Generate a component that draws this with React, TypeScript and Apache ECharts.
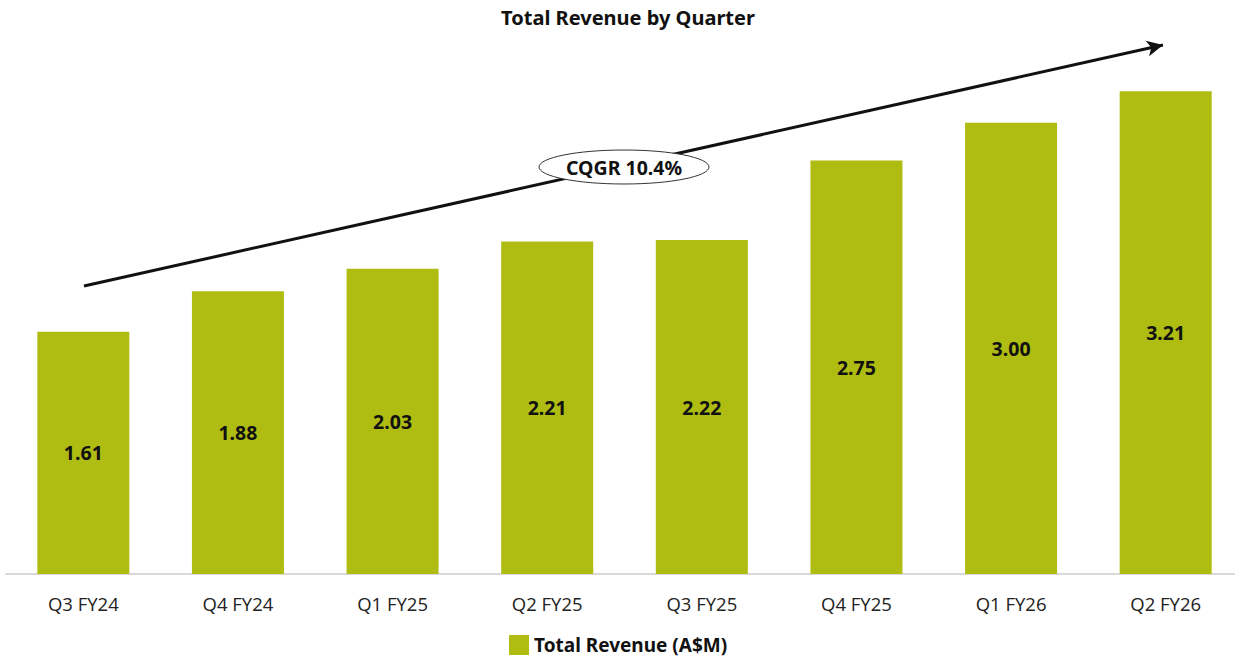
import React, { useEffect, useRef } from "react";
import * as echarts from "echarts";

const categories = ["Q3 FY24", "Q4 FY24", "Q1 FY25", "Q2 FY25", "Q3 FY25", "Q4 FY25", "Q1 FY26", "Q2 FY26"];
const revenue = [1.61, 1.88, 2.03, 2.21, 2.22, 2.75, 3.0, 3.21];
const seriesName = "Total Revenue (A$M)";
const titleText = "Total Revenue by Quarter";
const cqgrText = "CQGR 10.4%";

export default function App() {
  const ref = useRef<HTMLDivElement>(null);
  useEffect(() => {
    document.body.style.margin = "0";
    const chart = echarts.init(ref.current!, null, { renderer: "svg" });
    const font = "'Noto Sans', 'Open Sans', sans-serif";
    chart.setOption({
      animation: false,
      title: {
        text: titleText,
        left: 623,
        textAlign: "center",
        top: 2,
        textStyle: { fontFamily: font, fontWeight: "bold", fontSize: 20, color: "#111" },
      },
      legend: {
        top: 635,
        left: 509,
        padding: 0,
        itemWidth: 20,
        itemHeight: 20,
        itemGap: 8,
        data: [seriesName],
        icon: "rect",
        textStyle: { fontFamily: font, fontWeight: "bold", fontSize: 19, color: "#111" },
      },
      grid: { left: 6, width: 1237, top: 47.6, height: 526.4, containLabel: false },
      xAxis: {
        type: "category",
        data: categories,
        axisLine: { lineStyle: { color: "#d9d9d9", width: 2 } },
        axisTick: { show: false },
        axisLabel: { fontFamily: "'Open Sans', sans-serif", fontSize: 18.5, color: "#222", margin: 20 },
      },
      yAxis: {
        type: "value",
        min: 0,
        max: 3.5,
        show: false,
        splitLine: { show: false },
      },
      series: [
        {
          name: seriesName,
          type: "bar",
          data: revenue,
          barWidth: 92,
          itemStyle: { color: "#AFBC12" },
          label: {
            show: true,
            position: "inside",
            formatter: (p: any) => Number(p.value).toFixed(2),
            fontFamily: font,
            fontWeight: "bold",
            fontSize: 19.5,
            color: "#111",
          },
          markLine: {
            silent: true,
            symbol: ["none", "arrow"],
            symbolSize: [12, 16],
            label: { show: false },
            lineStyle: { color: "#111", width: 3, type: "solid" },
            data: [[{ x: 84, y: 286 }, { x: 1163, y: 45 }]],
          },
        },
      ],
      graphic: [
        {
          type: "ellipse",
          shape: { cx: 624, cy: 167, rx: 85, ry: 17 },
          style: { fill: "#fff", stroke: "#333", lineWidth: 1 },
          z: 100,
        },
        {
          type: "text",
          x: 624,
          y: 167,
          style: {
            text: cqgrText,
            fontFamily: font,
            fontWeight: "bold",
            fontSize: 19.5,
            fill: "#111",
            align: "center",
            verticalAlign: "middle",
          },
          z: 101,
        },
      ],
    });
    return () => chart.dispose();
  }, []);
  return (
    <div style={{ width: 1235, height: 662, overflow: "hidden" }}>
      <div ref={ref} style={{ width: 1250, height: 662 }} />
    </div>
  );
}
